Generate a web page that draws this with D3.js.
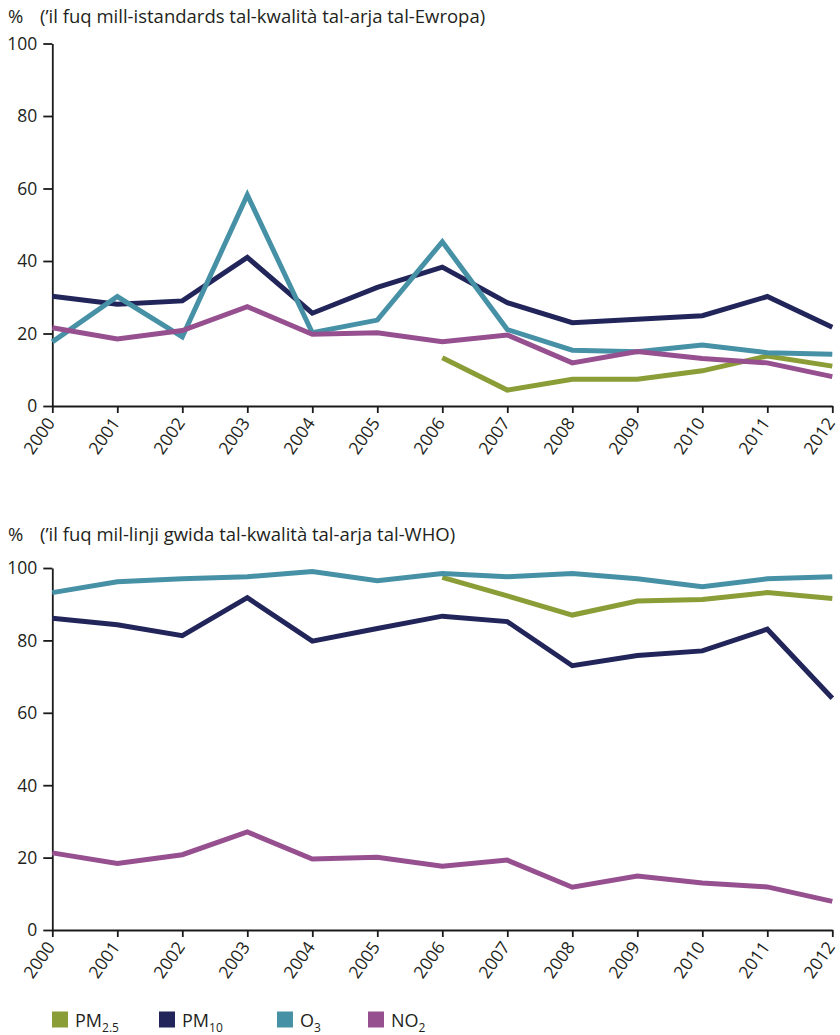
<!DOCTYPE html>
<html>
<head>
<meta charset="utf-8">
<script src="https://cdn.jsdelivr.net/npm/d3@7"></script>
<style>
  html, body { margin: 0; padding: 0; background: #ffffff; }
  svg { display: block; font-family: "Open Sans", "Noto Sans", sans-serif; }
  .axis path, .axis line { stroke: #1a1a1a; stroke-width: 1.8; }
  .axis text { fill: #231f20; font-size: 17.5px; font-family: "Open Sans", sans-serif; }
</style>
</head>
<body>
<svg id="chart" width="840" height="1035"></svg>
<script>
// ---- data ----
const years = [2000, 2001, 2002, 2003, 2004, 2005, 2006, 2007, 2008, 2009, 2010, 2011, 2012];
const yTicks = [0, 20, 40, 60, 80, 100];

const seriesNames = ["PM2.5", "PM10", "O3", "NO2"];
const seriesColors = ["#8a9d37", "#212559", "#4791a6", "#96508f"];
const legendMain = ["PM", "PM", "O", "NO"];
const legendSub = ["2.5", "10", "3", "2"];

// Panel 1: % above EU air-quality standards (null = no data)
const euPM25 = [null, null, null, null, null, null, 13.3, 4.4, 7.4, 7.4, 9.7, 13.8, 11.0];
const euPM10 = [30.3, 28.1, 29.0, 41.0, 25.6, 32.7, 38.3, 28.5, 23.0, 23.9, 24.9, 30.2, 21.7];
const euO3   = [17.7, 30.2, 19.1, 58.2, 20.2, 23.7, 45.3, 21.1, 15.4, 15.0, 16.8, 14.7, 14.3];
const euNO2  = [21.6, 18.5, 20.8, 27.4, 19.8, 20.2, 17.7, 19.6, 11.9, 15.0, 13.1, 11.9, 8.1];

// Panel 2: % above WHO air-quality guidelines
const whoPM25 = [null, null, null, null, null, null, 97.4, 92.3, 87.0, 90.9, 91.3, 93.2, 91.6];
const whoPM10 = [86.1, 84.3, 81.3, 91.8, 79.8, 83.3, 86.7, 85.2, 73.0, 75.8, 77.1, 83.1, 64.0];
const whoO3   = [93.2, 96.2, 97.0, 97.6, 99.0, 96.5, 98.5, 97.6, 98.5, 97.0, 94.8, 97.0, 97.6];
const whoNO2  = [21.3, 18.4, 20.8, 27.1, 19.6, 20.1, 17.6, 19.3, 11.8, 14.9, 13.0, 11.9, 7.9];

const title1 = "(\u2019il fuq mill-istandards tal-kwalit\u00e0 tal-arja tal-Ewropa)";
const title2 = "(\u2019il fuq mil-linji gwida tal-kwalit\u00e0 tal-arja tal-WHO)";

// ---- drawing ----
const svg = d3.select("#chart");
const x = d3.scaleLinear().domain([2000, 2012]).range([52.3, 832.3]);

function panel(top, bottom, titleY, title, data) {
  const y = d3.scaleLinear().domain([0, 100]).range([bottom, top]);
  const g = svg.append("g");

  g.append("text").attr("x", 8).attr("y", titleY)
    .attr("fill", "#231f20").style("font-size", "18.5px").text("%");
  g.append("text").attr("x", 40).attr("y", titleY)
    .attr("fill", "#231f20").style("font-size", "18.5px").text(title);

  const yAxis = g.append("g").attr("class", "axis")
    .attr("transform", "translate(52.3,0)")
    .call(d3.axisLeft(y).tickValues(yTicks).tickSize(9).tickSizeOuter(0).tickPadding(6));
  yAxis.selectAll("text").attr("dy", "0.34em");

  const xAxis = g.append("g").attr("class", "axis")
    .attr("transform", `translate(0,${bottom})`)
    .call(d3.axisBottom(x).tickValues(years).tickFormat(d3.format("d"))
      .tickSize(7).tickSizeOuter(0).tickPadding(0));
  xAxis.selectAll("text")
    .attr("text-anchor", "end")
    .attr("y", 0).attr("dy", 0)
    .attr("transform", "translate(3,17) rotate(-55)");

  const line = d3.line()
    .defined(d => d.v !== null)
    .x(d => x(d.year))
    .y(d => y(d.v));

  data.forEach((vals, i) => {
    const pts = years.map((yr, k) => ({ year: yr, v: vals[k] }));
    g.append("path")
      .datum(pts)
      .attr("fill", "none")
      .attr("stroke", seriesColors[i])
      .attr("stroke-width", 5)
      .attr("stroke-linejoin", "miter")
      .attr("stroke-linecap", "butt")
      .attr("d", line);
  });
}

panel(43.5, 406, 23, title1, [euPM25, euPM10, euO3, euNO2]);
panel(568, 930, 541, title2, [whoPM25, whoPM10, whoO3, whoNO2]);

// ---- legend ----
const legendX = [52, 159, 277, 368];
const leg = svg.append("g");
seriesNames.forEach((name, i) => {
  const lg = leg.append("g").attr("transform", `translate(${legendX[i]},1011.5)`);
  lg.append("rect").attr("width", 16).attr("height", 16).attr("fill", seriesColors[i]);
  const t = lg.append("text").attr("x", 23).attr("y", 15.5)
    .attr("fill", "#231f20").style("font-size", "18px");
  t.append("tspan").text(legendMain[i]);
  t.append("tspan").attr("dy", 5).style("font-size", "12px").text(legendSub[i]);
});
</script>
</body>
</html>
